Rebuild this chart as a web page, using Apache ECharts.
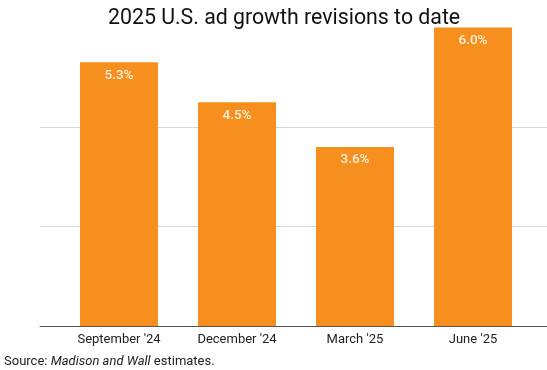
<!DOCTYPE html>
<html>
<head>
<meta charset="utf-8">
<script src="https://cdn.jsdelivr.net/npm/echarts@6/dist/echarts.min.js"></script>
<style>
html,body{margin:0;padding:0;background:#fff;}
#c{width:547px;height:370px;}
</style>
</head>
<body>
<div id="c"></div>
<script>
const titleText = "2025 U.S. ad growth revisions to date";
const categories = ["September '24", "December '24", "March '25", "June '25"];
const values = [5.3, 4.5, 3.6, 6.0];
const yMin = 0, yMax = 6, yStep = 2;

const chart = echarts.init(document.getElementById('c'), null, {renderer: 'canvas'});
const FONT = 'Roboto';
chart.setOption({
  animation: false,
  backgroundColor: '#ffffff',
  title: {
    text: titleText,
    left: 103,
    top: 3,
    textStyle: {fontFamily: FONT, fontSize: 21.3, fontWeight: 'normal', color: '#111'}
  },
  grid: [
    {left: 40, right: 0, top: 27.5, bottom: 44},
    {left: 60, width: 472, top: 27.5, bottom: 44}
  ],
  xAxis: [
    {gridIndex: 0, type: 'value', min: 0, max: 1,
     axisLine: {show: true, lineStyle: {color: '#555', width: 1}},
     axisTick: {show: false}, axisLabel: {show: false}, splitLine: {show: false}},
    {gridIndex: 1, type: 'category', data: categories,
     axisLine: {show: false}, axisTick: {show: false},
     axisLabel: {fontFamily: FONT, fontSize: 13, color: '#222', margin: 7}}
  ],
  yAxis: [
    {gridIndex: 0, type: 'value', min: yMin, max: yMax, interval: yStep,
     axisLine: {show: false}, axisTick: {show: false}, axisLabel: {show: false},
     splitLine: {show: true, showMinLine: false, showMaxLine: false, lineStyle: {color: '#d6d6d6', width: 1}}},
    {gridIndex: 1, type: 'value', min: yMin, max: yMax, interval: yStep,
     axisLine: {show: false}, axisTick: {show: false}, axisLabel: {show: false},
     splitLine: {show: false}}
  ],
  series: [{
    type: 'bar',
    xAxisIndex: 1, yAxisIndex: 1,
    data: values,
    barWidth: 78,
    itemStyle: {color: '#F78F1E'},
    label: {
      show: true, position: 'insideTop', distance: 6,
      formatter: p => p.value.toFixed(1) + '%',
      fontFamily: FONT, fontSize: 13.5, fontWeight: 500, color: '#FDF1DD'
    },
    z: 3
  }],
  graphic: [{
    type: 'text',
    left: 4, top: 355,
    style: {
      text: '{n|Source: }{i|Madison and Wall}{n| estimates.}',
      rich: {
        n: {fontFamily: FONT, fontSize: 13, fill: '#222'},
        i: {fontFamily: FONT, fontSize: 13, fontStyle: 'italic', fill: '#222'}
      }
    }
  }]
});
</script>
</body>
</html>
